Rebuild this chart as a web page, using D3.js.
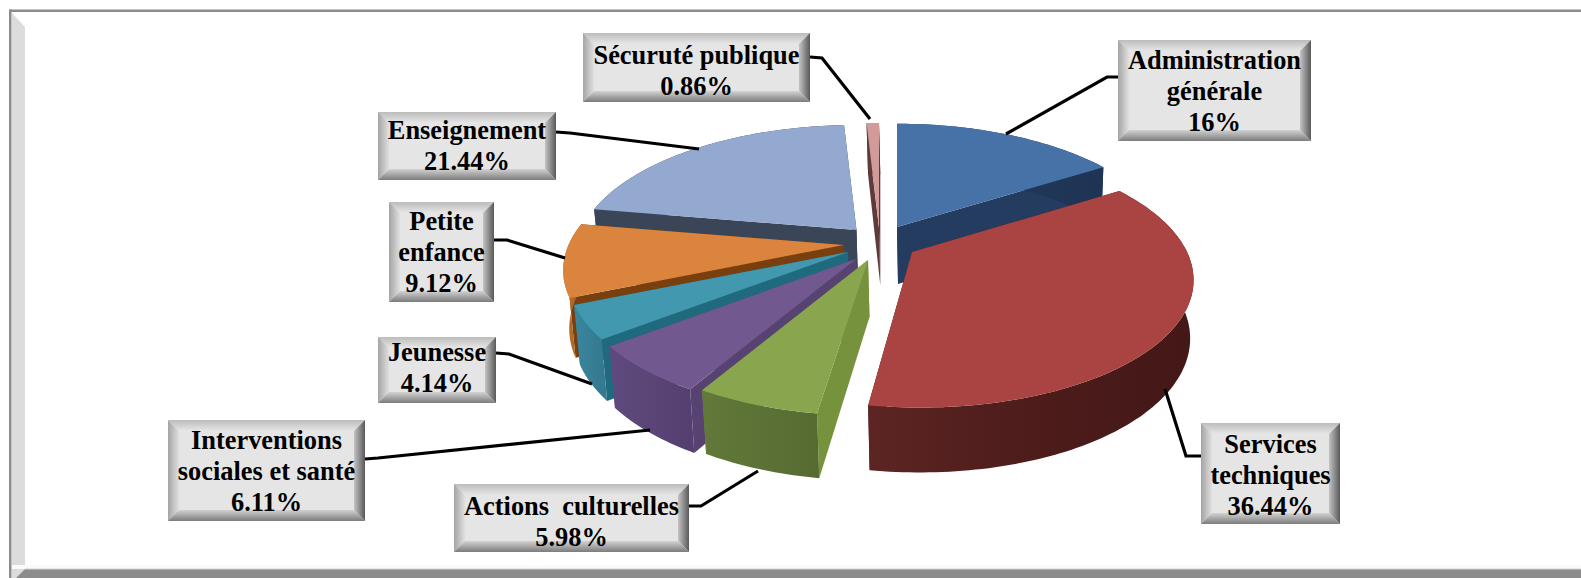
<!DOCTYPE html>
<html lang="fr">
<head>
<meta charset="utf-8">
<script src="https://cdn.jsdelivr.net/npm/d3@7/dist/d3.min.js"></script>
<style>
html,body{margin:0;padding:0;background:#fff;overflow:hidden}
svg{display:block}
text{font-family:"Liberation Serif","Times New Roman",serif;font-weight:700;fill:#000;white-space:pre}
</style>
</head>
<body>
<svg id="chart" width="1581" height="578" xmlns="http://www.w3.org/2000/svg"></svg>
<script>
// ---- data ----
const categories = ["Administration générale","Services techniques","Actions  culturelles","Interventions sociales et santé","Jeunesse","Petite enfance","Enseignement","Sécuruté publique"];
const values = [16,36.44,5.98,6.11,4.14,9.12,21.44,0.86];
const valueLabels = ["16%","36.44%","5.98%","6.11%","4.14%","9.12%","21.44%","0.86%"];
const labelLines = [["Administration","générale"],["Services","techniques"],["Actions  culturelles"],["Interventions","sociales et santé"],["Jeunesse"],["Petite","enfance"],["Enseignement"],["Sécuruté publique"]];

// ---- style & layout ----
const topColors  = ["#4672a8","#a94442","#89a54e","#71588f","#4198af","#db843d","#93a9cf","#d29a99"];
const sideColors = ["#233c60","#4a1a1a","#76923c","#574372","#1f6b7d","#7a3f0e","#3b4558","#5e3a3a"];
const rimStops   = [["#233c60","#1e3454"],["#5c2523","#4d1c1b","#431817"],["#62793a","#5c7236","#566b31"],["#5f4a7e","#5a4576","#553f70"],["#3a87a0","#34798f"],["#bd6f2c","#a9611f"],["#3b4558","#3b4558"],["#5e3a3a","#5e3a3a"]];
const explodeX = [31,46,2,-10,-18,-22.5,-9.5,13];
const explodeY = [-13,12,20,19,12,5,-10,-12];
const radiusK  = [0.98,1,1,1,1,1,1,1];
const shearK   = [0,-5.8,0,0,0,0,0,0];
const drawOrder = [7,0,6,5,4,3,1,2];
const boxes = [[1118,40,1311,141],[1201,423,1340,524],[454,484,689,552],[168,420,365,521],[378,337,496,403],[389,202,494,302],[378,112,556,180],[583,33,810,102]];
const textDy = [0.5,2,4,0.5,-2,0.5,0,3.5];
const leaders = [
  [[1118,77],[1107,77],[1006,134]],
  [[1165,389],[1186,456],[1201,456]],
  [[689,506],[701,506],[758,471]],
  [[365,459],[378,458],[650,430]],
  [[496,353],[509,354],[592,384]],
  [[494,240],[507,240],[565,258]],
  [[556,132],[570,133],[699,149]],
  [[810,57],[822,58],[870,119]]
];
const W = 1581, H = 578;
const cx = 866, cy = 240, radX = 275, radY = 125.4, persp = 0.194, depth = 57, shrink = 0.985;

const svg = d3.select("#chart");
const defs = svg.append("defs");

// ---- frame ----
svg.append("rect").attr("width",W).attr("height",H).attr("fill","#fff");
const frame = svg.append("g");
frame.append("path").attr("d","M12,13L25,27V569L16,578H12Z").attr("fill","#dcdcdc");
frame.append("rect").attr("x",12).attr("y",565).attr("width",W-12).attr("height",4).attr("fill","#fafafa");
frame.append("path").attr("d",`M25,569H${W}V${H}H16Z`).attr("fill","#8c8c8c");
frame.append("rect").attr("x",25).attr("y",568.5).attr("width",W-25).attr("height",1).attr("fill","#d4d4d4");
frame.append("rect").attr("x",9).attr("y",9.5).attr("width",W-9).attr("height",2.5).attr("fill","#8c8c8c");
frame.append("rect").attr("x",9).attr("y",9.5).attr("width",2.5).attr("height",H-9.5).attr("fill","#8c8c8c");

// ---- pie ----
const pie = d3.pie().sort(null).value(d => d).startAngle(0).endAngle(2*Math.PI);
const arcs = pie(values);
const xScale = d3.scaleLinear().domain([-1,1]).range([-radX,radX]);
const yScale = d3.scaleLinear().domain([-1,1]).range([radY,-radY]);
const sOf = z => 1/(1+persp*z);

// project polar position (r, angle) on the upper plane of slice i
function upper(i,r,a){
  const rr = r*radiusK[i], X = rr*Math.sin(a), Z = rr*Math.cos(a), s = sOf(Z);
  return [cx+explodeX[i]+(xScale(X)+shearK[i]*Z)*s, cy+explodeY[i]+yScale(Z)*s, s];
}
function lower(i,r,a){
  const p = upper(i,r,a);
  return [cx+1.5+(p[0]-cx)*shrink, p[1]+depth*Math.pow(p[2],0.6)];
}
const line = d3.line().curve(d3.curveLinear);
const sampleAngles = (a0,a1) => { const n = Math.max(2,Math.ceil((a1-a0)/0.02)); return d3.range(n+1).map(k => a0+(a1-a0)*k/n); };

const slices = svg.append("g");
drawOrder.forEach(i => {
  const d = arcs[i], a0 = d.startAngle, a1 = d.endAngle, g = slices.append("g");
  const angles = sampleAngles(a0,a1);
  const topPts = angles.map(a => upper(i,1,a));
  const botPts = angles.map(a => lower(i,1,a));
  const xs = topPts.map(p=>p[0]);
  const gid = "rim"+i;
  const lg = defs.append("linearGradient").attr("id",gid).attr("gradientUnits","userSpaceOnUse")
    .attr("x1",d3.min(xs)).attr("x2",d3.max(xs)).attr("y1",0).attr("y2",0);
  rimStops[i].forEach((c,k) => lg.append("stop").attr("offset",k/(rimStops[i].length-1)).attr("stop-color",c));
  [a0,a1].forEach(a => {
    const wall = [upper(i,0,a),upper(i,1,a),lower(i,1,a),lower(i,0,a)].map(p=>[p[0],p[1]]);
    g.append("path").attr("d",line(wall)+"Z").attr("fill",sideColors[i]);
  });
  const rim = topPts.map(p=>[p[0],p[1]]).concat(botPts.slice().reverse());
  g.append("path").attr("d",line(rim)+"Z").attr("fill",`url(#${gid})`);
  const face = [upper(i,0,a0)].concat(topPts).map(p=>[p[0],p[1]]);
  g.append("path").attr("d",line(face)+"Z").attr("fill",topColors[i]);
});

// ---- leader lines ----
svg.append("g").selectAll("path").data(leaders).join("path")
  .attr("d",d=>line(d)).attr("fill","none").attr("stroke","#000").attr("stroke-width",3.2);

// ---- label boxes ----
function grad(id,x1,y1,x2,y2,c1,c2){
  const g = defs.append("linearGradient").attr("id",id).attr("x1",x1).attr("y1",y1).attr("x2",x2).attr("y2",y2);
  g.append("stop").attr("offset",0).attr("stop-color",c1);
  g.append("stop").attr("offset",1).attr("stop-color",c2);
}
grad("bT",0,0,0,1,"#bcbcbc","#e6e6e6");
grad("bL",0,0,1,0,"#a4a4a4","#e0e0e0");
grad("bR",0,0,1,0,"#c4c4c4","#595959");
grad("bB",0,0,0,1,"#d2d2d2","#7c7c7c");
const bv = 11;
const labels = svg.append("g");
boxes.forEach((b,i) => {
  const [x0,y0,x1,y1] = b, g = labels.append("g");
  const ix0=x0+bv, iy0=y0+bv, ix1=x1-bv, iy1=y1-bv;
  g.append("rect").attr("x",x0).attr("y",y0).attr("width",x1-x0).attr("height",y1-y0).attr("fill","#e5e5e5");
  g.append("path").attr("d",`M${x0},${y0}H${x1}L${ix1},${iy0}H${ix0}Z`).attr("fill","url(#bT)");
  g.append("path").attr("d",`M${x0},${y0}L${ix0},${iy0}V${iy1}L${x0},${y1}Z`).attr("fill","url(#bL)");
  g.append("path").attr("d",`M${x1},${y0}V${y1}L${ix1},${iy1}V${iy0}Z`).attr("fill","url(#bR)");
  g.append("path").attr("d",`M${x0},${y1}H${x1}L${ix1},${iy1}H${ix0}Z`).attr("fill","url(#bB)");
  const rows = labelLines[i].concat(valueLabels[i]);
  const yc = (y0+y1)/2, xc = (x0+x1)/2, lh = 31;
  g.selectAll("text").data(rows).join("text")
    .attr("x",xc).attr("y",(d,k)=>yc+(k-(rows.length-1)/2)*lh+8.5+textDy[i])
    .attr("text-anchor","middle").attr("font-size",26.4).attr("xml:space","preserve").text(d=>d);
});
</script>
</body>
</html>
